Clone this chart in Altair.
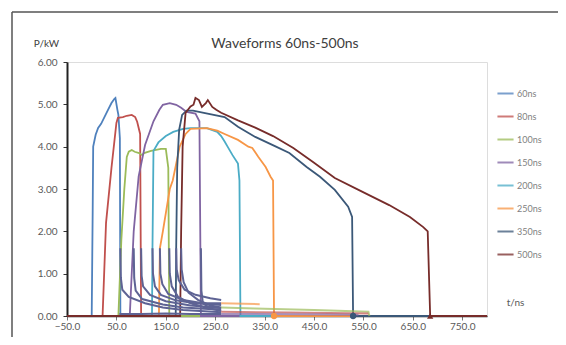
import altair as alt
import pandas as pd

series_names = ["60ns", "80ns", "100ns", "150ns", "200ns", "250ns", "350ns", "500ns"]
series_colors = ["#4F81BD", "#C0504D", "#9BBB59", "#8064A2", "#4BACC6", "#F79646", "#3B5878", "#772C2A"]

x_ticks = [-50, 50, 150, 250, 350, 450, 550, 650, 750]
y_ticks = [0, 1, 2, 3, 4, 5, 6]

chart_title = "Waveforms 60ns-500ns"

# pulse waveforms, t in ns, P in kW
t_60 = [-50, 0, 2, 3, 8, 13, 19, 25, 33, 40, 46, 48, 52, 54, 57, 58, 800]
p_60 = [0, 0, 2.5, 4.0, 4.28, 4.44, 4.54, 4.68, 4.87, 5.03, 5.13, 5.15, 4.87, 4.75, 4.2, 0, 0]

t_80 = [-50, 22, 29, 40, 50, 53, 63, 71, 81, 88, 92, 98, 100, 800]
p_80 = [0, 0, 2.2, 3.5, 4.56, 4.68, 4.7, 4.73, 4.75, 4.7, 4.59, 4.3, 0, 0]

t_100 = [-50, 54, 60, 66, 71, 75, 81, 87, 96, 102, 106, 120, 140, 150, 155, 157, 800]
p_100 = [0, 0, 1.8, 3.0, 3.76, 3.88, 3.92, 3.88, 3.85, 3.8, 3.85, 3.9, 3.95, 3.95, 3.5, 0, 0]

t_150 = [-50, 77, 85, 95, 108, 125, 137, 144, 158, 171, 181, 192, 210, 218, 221, 800]
p_150 = [0, 0, 2.0, 3.3, 4.04, 4.6, 4.87, 4.99, 5.03, 4.99, 4.92, 4.82, 4.78, 4.6, 0, 0]

t_200 = [-50, 122, 123, 125, 135, 150, 165, 185, 200, 233, 254, 262, 269, 275, 285, 296, 299, 301, 800]
p_200 = [0, 0, 1.6, 3.9, 4.1, 4.25, 4.35, 4.42, 4.44, 4.44, 4.35, 4.25, 4.12, 4.0, 3.8, 3.6, 3.2, 0, 0]

t_250 = [-50, 136, 138, 144, 158, 164, 171, 178, 190, 200, 233, 254, 269, 296, 317, 325, 337, 352, 362, 367, 369, 800]
p_250 = [0, 0, 1.6, 2.0, 3.0, 3.2, 3.6, 4.0, 4.3, 4.42, 4.44, 4.38, 4.3, 4.16, 4.0, 3.97, 3.76, 3.52, 3.29, 3.2, 0, 0]

t_350 = [-50, 170, 171, 173, 177, 183, 192, 205, 227, 269, 296, 331, 373, 400, 435, 462, 492, 519, 527, 529, 800]
p_350 = [0, 0, 1.6, 3.5, 4.4, 4.75, 4.85, 4.85, 4.8, 4.7, 4.47, 4.23, 4.0, 3.85, 3.52, 3.29, 2.98, 2.58, 2.34, 0, 0]

t_500 = [-50, 179, 181, 184, 190, 200, 206, 210, 217, 223, 231, 235, 244, 252, 262, 296, 331, 367, 408, 450, 492, 540, 602, 644, 671, 680, 685, 800]
p_500 = [0, 0, 2.0, 4.0, 4.8, 4.95, 4.99, 5.15, 5.1, 4.94, 5.03, 5.1, 4.94, 4.87, 4.8, 4.62, 4.45, 4.25, 3.97, 3.62, 3.26, 2.98, 2.62, 2.34, 2.1, 2.0, 0, 0]

series_t = [t_60, t_80, t_100, t_150, t_200, t_250, t_350, t_500]
series_p = [p_60, p_80, p_100, p_150, p_200, p_250, p_350, p_500]

# slate-coloured decaying tails near the baseline
decay_t = [
    [58, 59, 62, 75, 108, 144, 185, 262],
    [85, 86, 89, 102, 144, 185, 262],
    [100, 101, 104, 118, 150, 200, 262],
    [123, 124, 128, 140, 170, 210, 262],
    [138, 139, 143, 155, 185, 225, 262],
    [157, 158, 162, 175, 200, 230, 262],
    [171, 172, 176, 188, 210, 240, 262],
    [181, 182, 186, 196, 215, 240, 262],
    [221, 222, 225, 235, 250, 262],
    [56, 100, 150, 200, 262],
]
decay_p = [
    [1.6, 0.9, 0.62, 0.45, 0.3, 0.2, 0.14, 0.09],
    [1.6, 0.9, 0.6, 0.4, 0.27, 0.2, 0.15],
    [1.6, 0.95, 0.7, 0.5, 0.35, 0.25, 0.19],
    [1.6, 1.0, 0.7, 0.5, 0.37, 0.3, 0.26],
    [1.6, 1.0, 0.75, 0.52, 0.38, 0.3, 0.3],
    [1.6, 1.0, 0.7, 0.45, 0.3, 0.2, 0.12],
    [1.6, 1.1, 0.85, 0.62, 0.5, 0.42, 0.38],
    [1.6, 1.1, 0.8, 0.55, 0.38, 0.25, 0.2],
    [1.6, 0.6, 0.3, 0.22, 0.2, 0.19],
    [0.05, 0.05, 0.06, 0.05, 0.05],
]

# coloured residual tails after 262 ns
resid_series = ["100ns", "80ns", "250ns", "150ns"]
resid_t = [[262, 330, 450, 560, 562], [262, 400, 560], [262, 340], [262, 540]]
resid_p = [[0.2, 0.18, 0.14, 0.1, 0], [0.1, 0.08, 0.06], [0.3, 0.28], [0.05, 0.03]]

marker_series = ["250ns", "350ns", "500ns"]
marker_t = [369, 529, 685]
marker_p = [0, 0, 0]
marker_shape = ["circle", "circle", "triangle-up"]

rows = []
for name, ts, ps in zip(series_names, series_t, series_p):
    for i, (t, p) in enumerate(zip(ts, ps)):
        rows.append({"series": name, "t": t, "p": p, "idx": i})
df_main = pd.DataFrame(rows)

rows = []
for k, (ts, ps) in enumerate(zip(decay_t, decay_p)):
    for i, (t, p) in enumerate(zip(ts, ps)):
        rows.append({"seg": k, "t": t, "p": p, "idx": i})
df_decay = pd.DataFrame(rows)

rows = []
for k, (name, ts, ps) in enumerate(zip(resid_series, resid_t, resid_p)):
    for i, (t, p) in enumerate(zip(ts, ps)):
        rows.append({"seg": k, "series": name, "t": t, "p": p, "idx": i})
df_resid = pd.DataFrame(rows)

df_mark = pd.DataFrame({"series": marker_series, "t": marker_t, "p": marker_p, "shape": marker_shape})

FONT = "Lato"

x_enc = alt.X("t:Q", scale=alt.Scale(domain=[-50, 800], nice=False, zero=False),
              axis=alt.Axis(values=x_ticks, format=".1f", title="t/ns", titleAngle=0,
                            titleX=448, titleY=-14, titleAlign="center", titleBaseline="middle",
                            titleFontWeight="normal", titleFontSize=10, titleColor="#595959",
                            labelFontSize=10, labelColor="#595959", labelFont=FONT, titleFont=FONT,
                            labelFlush=False, labelOverlap=False,
                            domainColor="#222222", domainWidth=1.5, tickColor="#777777", tickSize=4,
                            labelPadding=1, grid=False))
y_enc = alt.Y("p:Q", scale=alt.Scale(domain=[0, 6], nice=False),
              axis=alt.Axis(values=y_ticks, format=".2f", title="P/kW", titleAngle=0,
                            titleX=-21, titleY=-19, titleAlign="center", titleBaseline="middle",
                            titleFontWeight="normal", titleFontSize=10, titleColor="#404040",
                            labelFontSize=10, labelColor="#595959", labelFont=FONT, titleFont=FONT,
                            domainColor="#222222", domainWidth=2, tickColor="#333333", tickSize=4,
                            labelPadding=6, grid=False))

color_scale = alt.Scale(domain=series_names, range=series_colors)

lines = alt.Chart(df_main).mark_line(strokeWidth=1.8).encode(
    x=x_enc, y=y_enc,
    color=alt.Color("series:N", scale=color_scale, sort=series_names,
                    legend=alt.Legend(title=None, orient="none", legendX=429, legendY=22,
                                      symbolType="stroke", symbolStrokeWidth=2, symbolSize=260,
                                      symbolOpacity=0.75, labelFontSize=9, labelColor="#7f7f7f",
                                      labelFont=FONT, rowPadding=8, labelOffset=2)),
    order=alt.Order("idx:Q"),
)

decays = alt.Chart(df_decay).mark_line(strokeWidth=2, color="#5e6394").encode(
    x="t:Q", y="p:Q", detail="seg:N", order=alt.Order("idx:Q"))

resid = alt.Chart(df_resid).mark_line(strokeWidth=2, opacity=0.7).encode(
    x="t:Q", y="p:Q", detail="seg:N",
    color=alt.Color("series:N", scale=color_scale, legend=None),
    order=alt.Order("idx:Q"))

markers = alt.Chart(df_mark).mark_point(filled=True, size=40, opacity=1).encode(
    x="t:Q", y="p:Q",
    color=alt.Color("series:N", scale=color_scale, legend=None),
    shape=alt.Shape("shape:N", scale=None, legend=None))

frame_df = pd.DataFrame({"k": [0]})
frame_left = alt.Chart(frame_df).mark_rule(color="#555555", strokeWidth=1.5).encode(
    x=alt.value(-55), y=alt.value(-50), y2=alt.value(400))
frame_top = alt.Chart(frame_df).mark_rule(color="#555555", strokeWidth=1.5).encode(
    x=alt.value(-55), x2=alt.value(600), y=alt.value(-50))

title_text = alt.Chart(pd.DataFrame({"label": [chart_title]})).mark_text(
    font=FONT, fontSize=14, color="#404040", align="center", baseline="middle").encode(
    text="label:N", x=alt.value(218), y=alt.value(-18))

chart = alt.layer(lines, decays, resid, markers, frame_left, frame_top, title_text).properties(
    width=420, height=254,
    padding={"left": 59, "top": 54, "right": 71, "bottom": 21},
    autosize=alt.AutoSizeParams(type="none"),
).configure_view(stroke="#8c8c8c", strokeWidth=1).configure(background="white")

chart.save("out.html", embed_options={"renderer": "svg", "actions": False})
